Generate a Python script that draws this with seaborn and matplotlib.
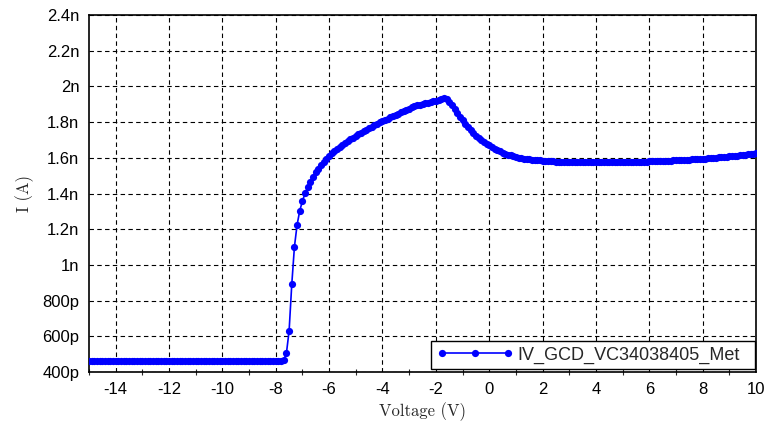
import matplotlib
matplotlib.use("Agg")
import matplotlib.pyplot as plt
import seaborn as sns
import pandas as pd
from matplotlib.ticker import FixedLocator, FixedFormatter, MultipleLocator

# ---- data (voltage sweep in V, current in nA) ----
voltage = [
    -15.0, -14.9, -14.8, -14.7, -14.6, -14.5, -14.4, -14.3, -14.2, -14.1,
    -14.0, -13.9, -13.8, -13.7, -13.6, -13.5, -13.4, -13.3, -13.2, -13.1,
    -13.0, -12.9, -12.8, -12.7, -12.6, -12.5, -12.4, -12.3, -12.2, -12.1,
    -12.0, -11.9, -11.8, -11.7, -11.6, -11.5, -11.4, -11.3, -11.2, -11.1,
    -11.0, -10.9, -10.8, -10.7, -10.6, -10.5, -10.4, -10.3, -10.2, -10.1,
    -10.0, -9.9, -9.8, -9.7, -9.6, -9.5, -9.4, -9.3, -9.2, -9.1,
    -9.0, -8.9, -8.8, -8.7, -8.6, -8.5, -8.4, -8.3, -8.2, -8.1,
    -8.0, -7.9, -7.8, -7.7, -7.6, -7.5, -7.4, -7.3, -7.2, -7.1,
    -7.0, -6.9, -6.8, -6.7, -6.6, -6.5, -6.4, -6.3, -6.2, -6.1,
    -6.0, -5.9, -5.8, -5.7, -5.6, -5.5, -5.4, -5.3, -5.2, -5.1,
    -5.0, -4.9, -4.8, -4.7, -4.6, -4.5, -4.4, -4.3, -4.2, -4.1,
    -4.0, -3.9, -3.8, -3.7, -3.6, -3.5, -3.4, -3.3, -3.2, -3.1,
    -3.0, -2.9, -2.8, -2.7, -2.6, -2.5, -2.4, -2.3, -2.2, -2.1,
    -2.0, -1.9, -1.8, -1.7, -1.6, -1.5, -1.4, -1.3, -1.2, -1.1,
    -1.0, -0.9, -0.8, -0.7, -0.6, -0.5, -0.4, -0.3, -0.2, -0.1,
    0.0, 0.1, 0.2, 0.3, 0.4, 0.5, 0.6, 0.7, 0.8, 0.9,
    1.0, 1.1, 1.2, 1.3, 1.4, 1.5, 1.6, 1.7, 1.8, 1.9,
    2.0, 2.1, 2.2, 2.3, 2.4, 2.5, 2.6, 2.7, 2.8, 2.9,
    3.0, 3.1, 3.2, 3.3, 3.4, 3.5, 3.6, 3.7, 3.8, 3.9,
    4.0, 4.1, 4.2, 4.3, 4.4, 4.5, 4.6, 4.7, 4.8, 4.9,
    5.0, 5.1, 5.2, 5.3, 5.4, 5.5, 5.6, 5.7, 5.8, 5.9,
    6.0, 6.1, 6.2, 6.3, 6.4, 6.5, 6.6, 6.7, 6.8, 6.9,
    7.0, 7.1, 7.2, 7.3, 7.4, 7.5, 7.6, 7.7, 7.8, 7.9,
    8.0, 8.1, 8.2, 8.3, 8.4, 8.5, 8.6, 8.7, 8.8, 8.9,
    9.0, 9.1, 9.2, 9.3, 9.4, 9.5, 9.6, 9.7, 9.8, 9.9,
    10.0,
]

current_nA = [
    0.463, 0.463, 0.463, 0.463, 0.463, 0.463, 0.463, 0.463, 0.463, 0.463,
    0.463, 0.463, 0.463, 0.463, 0.463, 0.463, 0.463, 0.463, 0.463, 0.463,
    0.463, 0.463, 0.463, 0.463, 0.463, 0.463, 0.463, 0.463, 0.463, 0.463,
    0.463, 0.463, 0.463, 0.463, 0.463, 0.463, 0.463, 0.463, 0.463, 0.463,
    0.463, 0.463, 0.463, 0.463, 0.463, 0.463, 0.463, 0.463, 0.463, 0.463,
    0.463, 0.463, 0.463, 0.463, 0.463, 0.463, 0.463, 0.463, 0.463, 0.463,
    0.463, 0.463, 0.463, 0.463, 0.463, 0.463, 0.463, 0.463, 0.463, 0.463,
    0.463, 0.463, 0.464, 0.467, 0.506, 0.630, 0.891, 1.102, 1.225, 1.304,
    1.358, 1.401, 1.435, 1.464, 1.492, 1.518, 1.540, 1.560, 1.578, 1.595,
    1.611, 1.625, 1.638, 1.650, 1.662, 1.673, 1.684, 1.694, 1.703, 1.712,
    1.721, 1.731, 1.740, 1.749, 1.758, 1.766, 1.775, 1.783, 1.791, 1.799,
    1.806, 1.813, 1.820, 1.827, 1.834, 1.841, 1.848, 1.855, 1.862, 1.869,
    1.876, 1.883, 1.889, 1.893, 1.897, 1.901, 1.905, 1.909, 1.913, 1.917,
    1.921, 1.926, 1.931, 1.934, 1.928, 1.912, 1.893, 1.872, 1.851, 1.830,
    1.810, 1.791, 1.772, 1.755, 1.739, 1.724, 1.711, 1.699, 1.689, 1.679,
    1.669, 1.660, 1.651, 1.643, 1.636, 1.629, 1.623, 1.618, 1.613, 1.609,
    1.605, 1.601, 1.598, 1.595, 1.593, 1.591, 1.589, 1.587, 1.586, 1.585,
    1.584, 1.583, 1.582, 1.581, 1.580, 1.579, 1.579, 1.578, 1.578, 1.577,
    1.577, 1.577, 1.576, 1.576, 1.576, 1.576, 1.575, 1.575, 1.575, 1.575,
    1.575, 1.575, 1.575, 1.575, 1.575, 1.575, 1.576, 1.576, 1.576, 1.576,
    1.576, 1.577, 1.577, 1.577, 1.578, 1.578, 1.578, 1.579, 1.579, 1.579,
    1.580, 1.580, 1.581, 1.581, 1.582, 1.582, 1.583, 1.584, 1.584, 1.585,
    1.586, 1.587, 1.587, 1.588, 1.589, 1.590, 1.591, 1.592, 1.593, 1.594,
    1.595, 1.596, 1.597, 1.598, 1.600, 1.601, 1.602, 1.603, 1.605, 1.606,
    1.608, 1.609, 1.611, 1.612, 1.614, 1.615, 1.617, 1.619, 1.621, 1.623,
    1.625,
]

series_name = "IV_GCD_VC34038405_Met"

x_ticks = [-14, -12, -10, -8, -6, -4, -2, 0, 2, 4, 6, 8, 10]
x_tick_labels = ["-14", "-12", "-10", "-8", "-6", "-4", "-2", "0", "2", "4", "6", "8", "10"]
y_ticks = [0.4, 0.6, 0.8, 1.0, 1.2, 1.4, 1.6, 1.8, 2.0, 2.2, 2.4]
y_tick_labels = ["400p", "600p", "800p", "1n", "1.2n", "1.4n", "1.6n", "1.8n", "2n", "2.2n", "2.4n"]

x_label = "Voltage (V)"
y_label = "I (A)"

# ---- plot ----
sns.set_style("white")
plt.rcParams["font.family"] = ["Liberation Sans", "DejaVu Sans"]

df = pd.DataFrame({"V": voltage, "I": current_nA})

fig = plt.figure(figsize=(7.68, 4.32), dpi=100)
ax = fig.add_axes([89 / 768, 1 - 372 / 432, (756 - 89) / 768, (372 - 15) / 432])

sns.lineplot(data=df, x="V", y="I", ax=ax, color="#0000ff", linewidth=1.2,
             marker="o", markersize=5.2, markeredgewidth=0, label=series_name,
             zorder=3)

ax.set_xlim(-15, 10)
ax.set_ylim(0.4, 2.4)
ax.xaxis.set_major_locator(FixedLocator(x_ticks))
ax.xaxis.set_major_formatter(FixedFormatter(x_tick_labels))
ax.yaxis.set_major_locator(FixedLocator(y_ticks))
ax.yaxis.set_major_formatter(FixedFormatter(y_tick_labels))
ax.xaxis.set_minor_locator(MultipleLocator(1))

ax.grid(True, which="major", color="black", linestyle=(0, (4, 3)), linewidth=0.8)
ax.set_axisbelow(True)

for s in ax.spines.values():
    s.set_color("black")
    s.set_linewidth(1.2)
    s.set_visible(True)

ax.tick_params(axis="both", which="major", direction="out", length=4, width=1,
               labelsize=12, colors="black", pad=3)
ax.tick_params(axis="x", which="minor", direction="inout", length=4, width=0.8,
               bottom=True)
ax.tick_params(axis="x", which="both", top=False)
ax.tick_params(axis="y", which="both", right=False)

ax.set_xlabel(x_label, family="cmr10", fontsize=12, labelpad=4)
ax.set_ylabel(y_label, family="cmr10", fontsize=12, labelpad=6)

leg = ax.legend(loc="lower left", bbox_to_anchor=(0.5127, 0.0084, 0.4858, 0.08),
                mode="expand", numpoints=3, handlelength=4.25, fontsize=13,
                frameon=True, fancybox=False, edgecolor="black",
                borderaxespad=0.0, borderpad=0.3, handletextpad=0.25)
leg.get_frame().set_linewidth(1.0)
leg.get_frame().set_alpha(1.0)

fig.savefig("out.png", dpi=100)
